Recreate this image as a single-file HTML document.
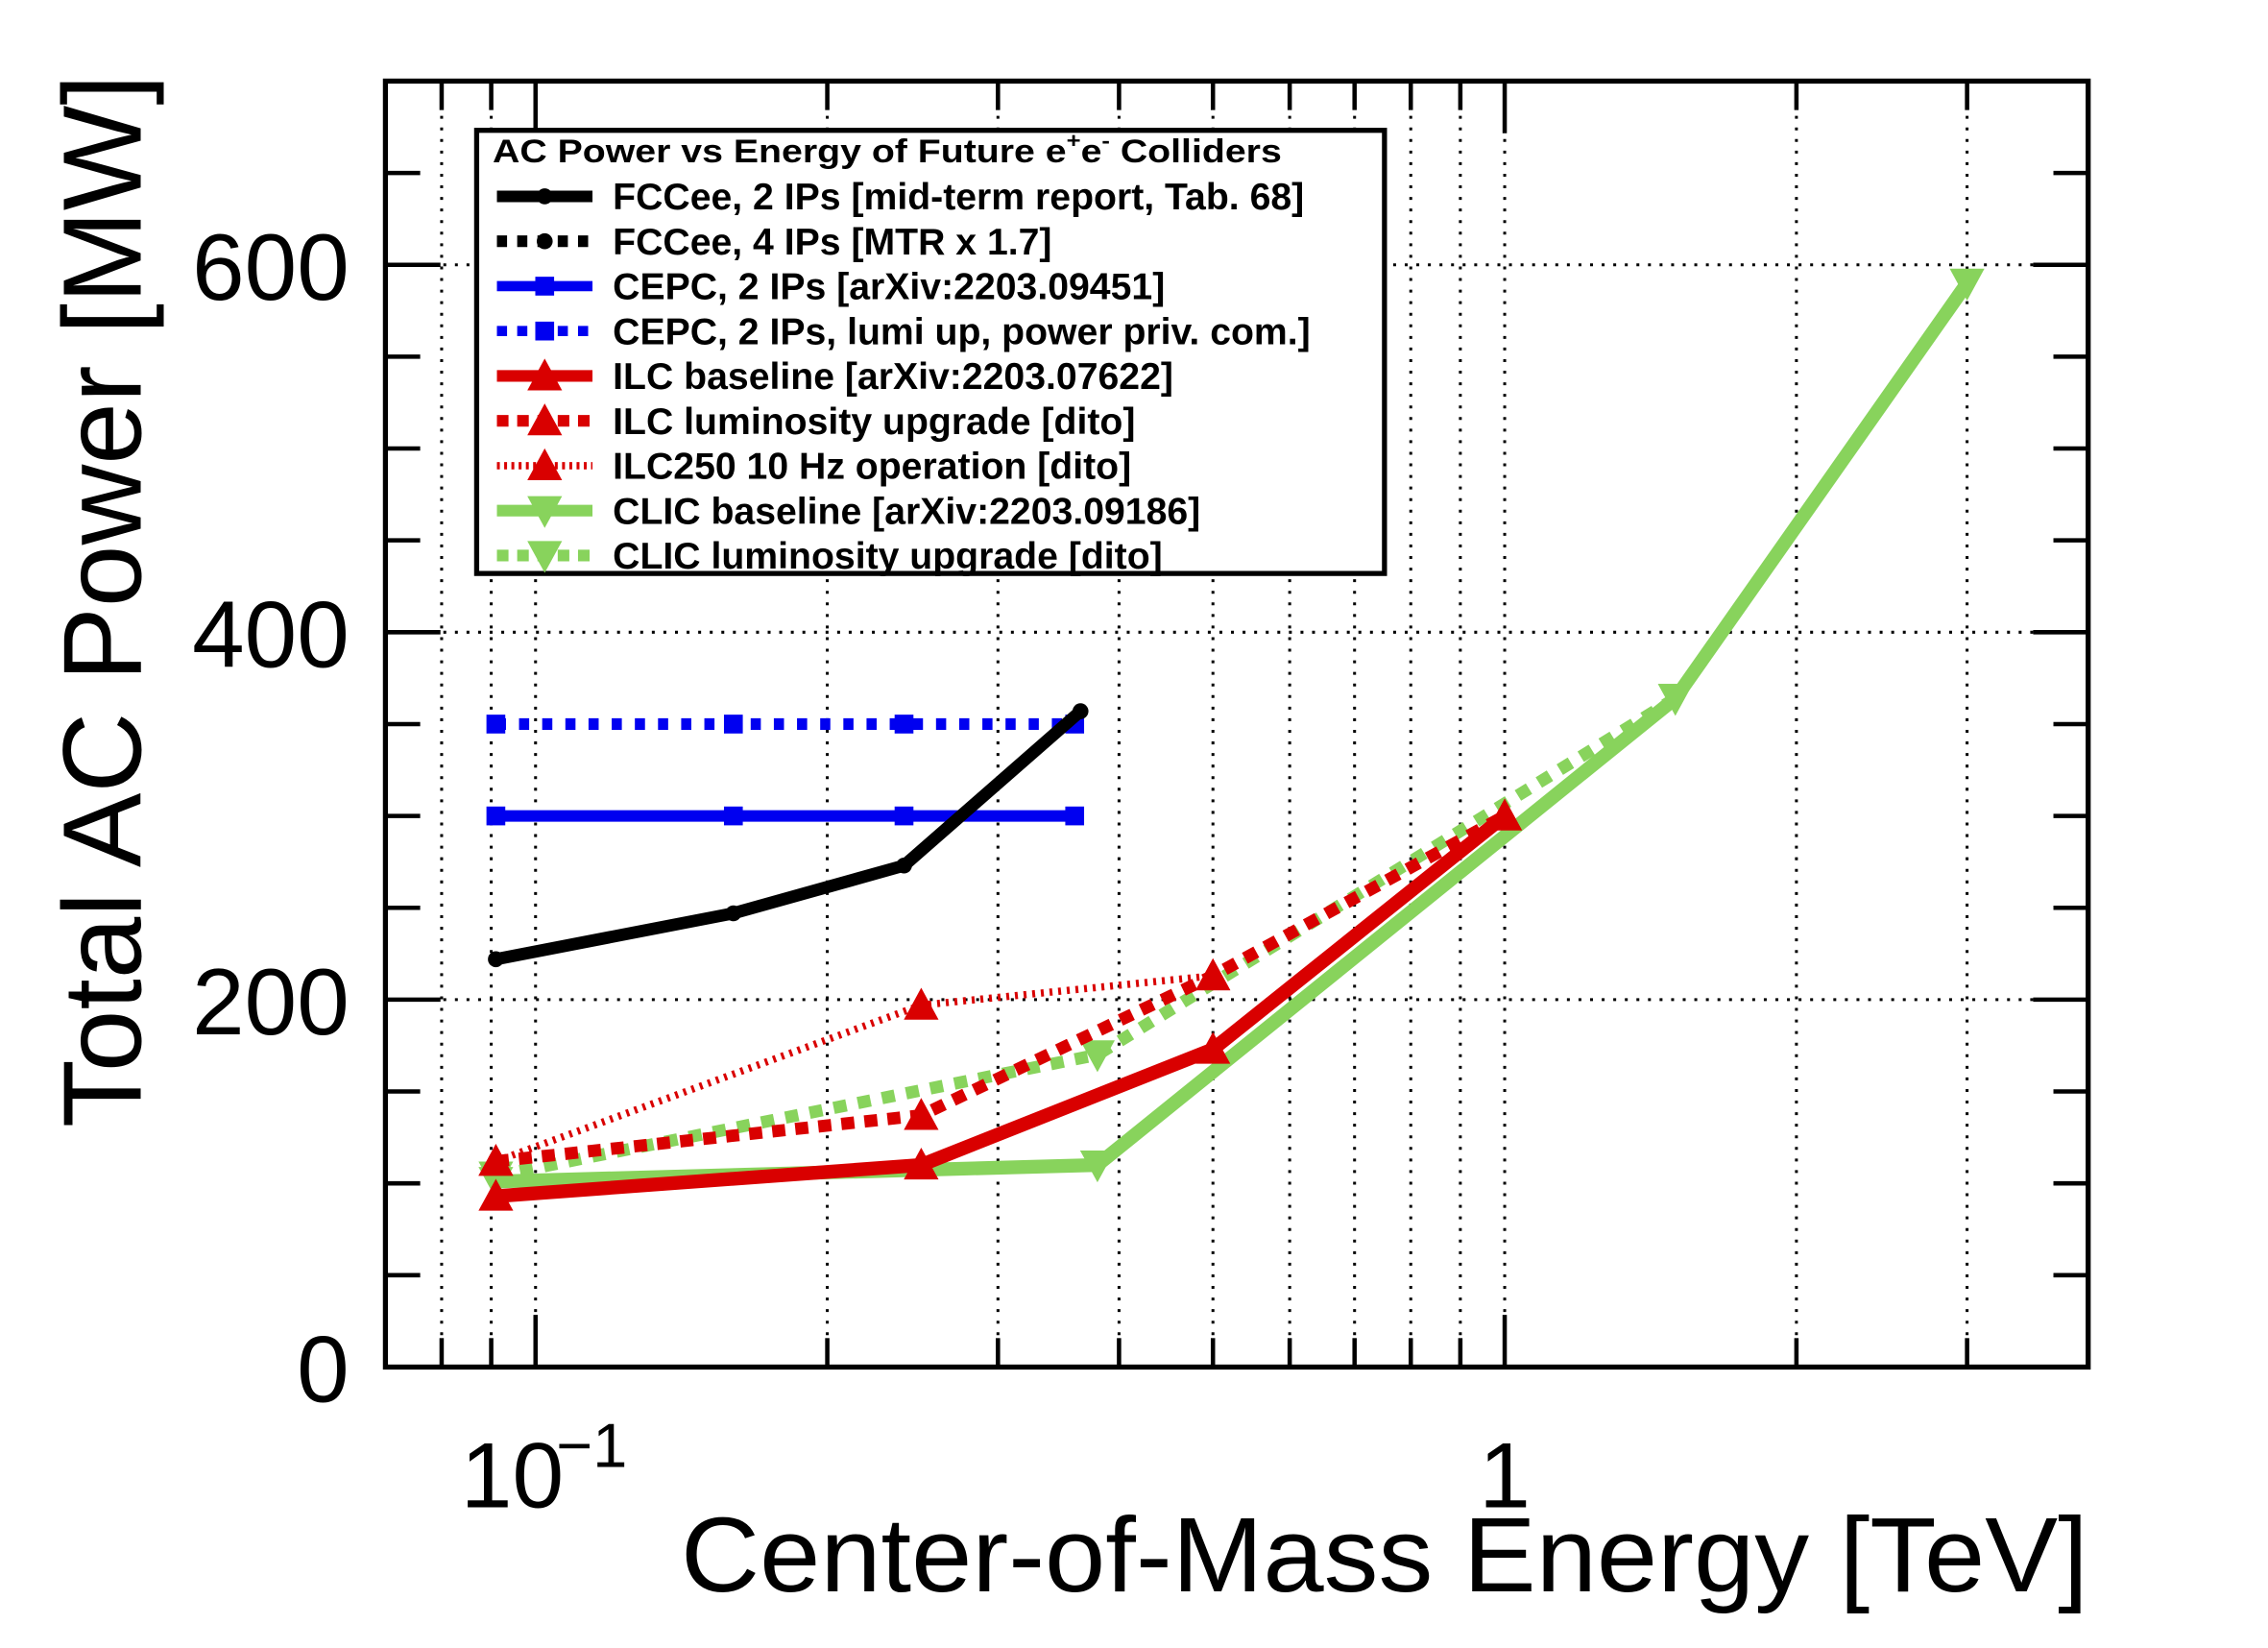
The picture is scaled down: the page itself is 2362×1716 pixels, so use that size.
<!DOCTYPE html>
<html><head><meta charset="utf-8"><style>
html,body{margin:0;padding:0;background:#fff;}
svg{display:block;}
text{font-family:"Liberation Sans",sans-serif;}
</style></head><body>
<svg id="chart" width="2362" height="1716" viewBox="0 0 1566 1138">
<g id="grid"></g>
<g id="series"></g>
<g id="axes"></g>
<g id="legend"></g>
<text x="470" y="1099" font-size="73" textLength="972" lengthAdjust="spacingAndGlyphs">Center-of-Mass Energy [TeV]</text>
<text transform="translate(97,415) rotate(-90)" text-anchor="middle" font-size="77">Total AC Power [MW]</text>
</svg>
<script>
const fccX=[0.091,0.16,0.24,0.365];
const fccY=[222,247,273,357];
const cepcX=[0.091,0.16,0.24,0.36];
const cepcY=[300,300,300,300];
const cepcUpY=[350,350,350,350];
const ilcX=[0.091,0.25,0.5,1.0];
const ilcY=[93,110,173,300];
const ilcUpY=[112,137,213,300];
const ilc10X=[0.091,0.25,0.5];
const ilc10Y=[112,197,213];
const clicX=[0.091,0.38,1.5,3.0];
const clicY=[101,110,364,590];
const clicUpX=[0.091,0.38,1.5];
const clicUpY=[104,170,364];
const yTicks=[0,200,400,600];
const xMinor=[0.07,0.08,0.09,0.1,0.2,0.3,0.4,0.5,0.6,0.7,0.8,0.9,1,2,3,4];

const L=266,R=1442,T=56,B=944;
const xmin=0.07,xmax=4,ymin=0,ymax=700;
const sx=v=>L+(Math.log10(v)-Math.log10(xmin))/(Math.log10(xmax)-Math.log10(xmin))*(R-L);
const sy=v=>B-(v-ymin)/(ymax-ymin)*(B-T);
const NS='http://www.w3.org/2000/svg';
function mk(tag,at,parent){const e=document.createElementNS(NS,tag);for(const k in at)e.setAttribute(k,at[k]);parent.appendChild(e);return e;}
const grid=document.getElementById('grid'),axes=document.getElementById('axes'),ser=document.getElementById('series'),leg=document.getElementById('legend');

xMinor.forEach(v=>{if(v>xmin&&v<xmax){const g=mk('line',{x1:sx(v),x2:sx(v),y1:T,y2:B,stroke:'#000','stroke-width':2,'stroke-dasharray':'2,6'},grid);

}});
yTicks.forEach(v=>{if(v>0){const g=mk('line',{x1:L,x2:R,y1:sy(v),y2:sy(v),stroke:'#000','stroke-width':2,'stroke-dasharray':'2,6'},grid);

}});

function tri(cx,cy,s,down,col,parent){const h=s;const p=down?`${cx-s*0.6},${cy-h*0.5} ${cx+s*0.6},${cy-h*0.5} ${cx},${cy+h*0.6}`:`${cx-s*0.6},${cy+h*0.5} ${cx+s*0.6},${cy+h*0.5} ${cx},${cy-h*0.6}`;return mk('polygon',{points:p,fill:col},parent);}
function marker(type,cx,cy,col,parent){
  if(type==='circle')return mk('circle',{cx,cy,r:5.5,fill:col},parent);
  if(type==='square')return mk('rect',{x:cx-6.5,y:cy-6.5,width:13,height:13,fill:col},parent);
  if(type==='up')return tri(cx,cy,20,false,col,parent);
  return tri(cx,cy,20,true,col,parent);
}
function series(name,xs,ys,col,w,dash,mtype){
  const g=mk('g',{},ser);
  
  
  const pts=xs.map((x,i)=>sx(x)+','+sy(ys[i])).join(' ');
  const at={points:pts,fill:'none',stroke:col,'stroke-width':w,'stroke-linejoin':'round'};
  if(dash)at['stroke-dasharray']=dash;
  mk('polyline',at,g);
  xs.forEach((x,i)=>{const m=marker(mtype,sx(x),sy(ys[i]),col,g);
    
    });
}
const green='#88d35c',red='#d90000',blue='#0000f0';
series('cepc-lumi-up-line',cepcX,cepcUpY,blue,8,'7,9','square');
series('cepc-line',cepcX,cepcY,blue,8,null,'square');
series('fccee-line',fccX,fccY,'#000',8.5,null,'circle');
series('clic-lumi-up-line',clicUpX,clicUpY,green,8.5,'9,8','down');
series('clic-line',clicX,clicY,green,9.5,null,'down');
series('ilc250-10hz-line',ilc10X,ilc10Y,red,5,'2,4','up');
series('ilc-lumi-up-line',ilcX,ilcUpY,red,8.5,'9,7','up');
series('ilc-line',ilcX,ilcY,red,9.5,null,'up');

const fr=mk('rect',{x:L,y:T,width:R-L,height:B-T,fill:'none',stroke:'#000','stroke-width':3.5},axes);


for(let v=0;v<=700;v+=50){const maj=v%200===0;const len=maj?38:24;const y=sy(v);
 const a=mk('line',{x1:L,x2:L+len,y1:y,y2:y,stroke:'#000','stroke-width':3},axes);
 
 
 const b=mk('line',{x1:R-len,x2:R,y1:y,y2:y,stroke:'#000','stroke-width':3},axes);
 
 }
yTicks.forEach(v=>{const t=mk('text',{x:241,y:sy(v)+24,'text-anchor':'end','font-size':65},axes);t.textContent=v;
 
 });
xMinor.forEach(v=>{if(v>xmin&&v<xmax){const maj=(v===0.1||v===1);const len=maj?36:20;
 const a=mk('line',{x1:sx(v),x2:sx(v),y1:B,y2:B-len,stroke:'#000','stroke-width':3},axes);
 
 
 const b=mk('line',{x1:sx(v),x2:sx(v),y1:T,y2:T+len,stroke:'#000','stroke-width':3},axes);
 
 }});
const t1=mk('text',{x:318,y:1041,'font-size':64},axes);t1.textContent='10';


const t1e=mk('text',{x:384,y:1013,'font-size':43},axes);t1e.textContent='\u22121';


const t2=mk('text',{x:sx(1),y:1041,'text-anchor':'middle','font-size':64},axes);t2.textContent='1';



const lb=mk('rect',{x:329,y:90,width:627,height:306,fill:'#fff',stroke:'#000','stroke-width':3.5},leg);


const lt=mk('text',{x:340,y:112,'font-size':23,'font-weight':'bold',textLength:545,lengthAdjust:'spacingAndGlyphs'},leg);
lt.innerHTML='AC Power vs Energy of Future e<tspan font-size="15" dy="-10">+</tspan><tspan dy="10">e</tspan><tspan font-size="15" dy="-10">-</tspan><tspan dy="10"> Colliders</tspan>';


const entries=[
 ['FCCee, 2 IPs [mid-term report, Tab. 68]','#000',8,null,'circle'],
 ['FCCee, 4 IPs [MTR x 1.7]','#000',8,'7,7','circle'],
 ['CEPC, 2 IPs [arXiv:2203.09451]',blue,7,null,'square'],
 ['CEPC, 2 IPs, lumi up, power priv. com.]',blue,7,'7,7','square'],
 ['ILC baseline [arXiv:2203.07622]',red,8,null,'up'],
 ['ILC luminosity upgrade [dito]',red,8,'8,6','up'],
 ['ILC250 10 Hz operation [dito]',red,5,'2,3','up'],
 ['CLIC baseline [arXiv:2203.09186]',green,8,null,'down'],
 ['CLIC luminosity upgrade [dito]',green,8,'8,6','down']];
entries.forEach((e,i)=>{const y=135.6+i*31;const g=mk('g',{},leg);
 
 
 const at={x1:343,x2:409,y1:y,y2:y,stroke:e[1],'stroke-width':e[2]};if(e[3])at['stroke-dasharray']=e[3];
 mk('line',at,g);marker(e[4],376,y,e[1],g);
 const t=mk('text',{x:423,y:y+9,'font-size':26,'font-weight':'bold'},g);t.textContent=e[0];});
</script>
</body></html>
